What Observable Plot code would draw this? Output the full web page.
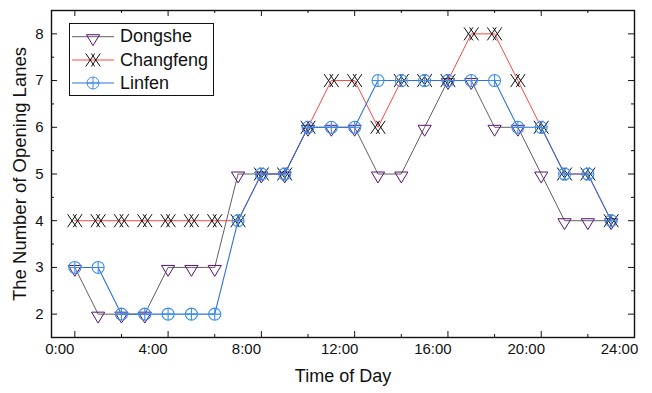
<!DOCTYPE html>
<html><head><meta charset="utf-8">
<script src="https://cdn.jsdelivr.net/npm/d3@7"></script>
<script src="https://cdn.jsdelivr.net/npm/@observablehq/plot@0.6"></script>
<style>
body{margin:0;background:#fff;}
#chart svg{font-family:"Liberation Sans",Arial,sans-serif;}
</style>
</head><body><div id="chart"></div>
<script>
const hours = [0,1,2,3,4,5,6,7,8,9,10,11,12,13,14,15,16,17,18,19,20,21,22,23];
const dongshe = [3,2,2,2,3,3,3,5,5,5,6,6,6,5,5,6,7,7,6,6,5,4,4,4];
const changfeng = [4,4,4,4,4,4,4,4,5,5,6,7,7,6,7,7,7,8,8,7,6,5,5,4];
const linfen = [3,3,2,2,2,2,2,4,5,5,6,6,6,7,7,7,7,7,7,6,6,5,5,4];
const seriesNames = ["Dongshe","Changfeng","Linfen"];
const xTicks = [0,4,8,12,16,20,24];
const xTickLabels = ["0:00","4:00","8:00","12:00","16:00","20:00","24:00"];
const xMinor = [2,6,10,14,18,22];
const yTicks = [2,3,4,5,6,7,8];
const yMinor = [2.5,3.5,4.5,5.5,6.5,7.5];
const xTitle = "Time of Day";
const yTitle = "The Number of Opening Lanes";

const colors = {
  dLine: "#606060", dMark: "#5a1070",
  cLine: "#ff4545", cMark: "#111111",
  lLine: "#2f72d8", lMark: "#3a8ef0"
};

// custom symbols
const triDown = {draw(ctx, size){const r=Math.sqrt(size/Math.PI);
  ctx.moveTo(-r,-0.3*r);ctx.lineTo(r,-0.3*r);ctx.lineTo(0,1.35*r);ctx.closePath();}};
const doubleX = {draw(ctx, size){const r=Math.sqrt(size/Math.PI);
  const o=0.45*r, hw=0.72*r, hh=1.05*r;
  for (const c of [-o,o]){ctx.moveTo(c-hw,-hh);ctx.lineTo(c+hw,hh);ctx.moveTo(c-hw,hh);ctx.lineTo(c+hw,-hh);}}};
const circlePlus = {draw(ctx, size){const r=Math.sqrt(size/Math.PI);
  ctx.moveTo(r,0);ctx.arc(0,0,r,0,2*Math.PI);ctx.moveTo(-r,0);ctx.lineTo(r,0);ctx.moveTo(0,-r);ctx.lineTo(0,r);}};

const rows = (vals) => hours.map((h,i)=>({h, v: vals[i]}));
const D = rows(dongshe), C = rows(changfeng), L = rows(linfen);

const plot = Plot.plot({
  width: 652, height: 393,
  marginLeft: 51, marginRight: 18, marginTop: 10, marginBottom: 56,
  x: {domain: [-1, 24], axis: null},
  y: {domain: [1.5, 8.5], axis: null},
  style: {fontFamily: '"Liberation Sans", Arial, sans-serif', background: "white", color: "#111"},
  marks: [
    // series
    Plot.line(D, {x: "h", y: "v", stroke: colors.dLine, strokeWidth: 1}),
    Plot.dot(D, {x: "h", y: "v", symbol: triDown, r: 6.6, stroke: colors.dMark, fill: "none", strokeWidth: 1}),
    Plot.line(C, {x: "h", y: "v", stroke: colors.cLine, strokeWidth: 1}),
    Plot.dot(C, {x: "h", y: "v", symbol: doubleX, r: 6.2, stroke: colors.cMark, fill: "none", strokeWidth: 1}),
    Plot.line(L, {x: "h", y: "v", stroke: colors.lLine, strokeWidth: 1.1}),
    Plot.dot(L, {x: "h", y: "v", symbol: circlePlus, r: 6, stroke: colors.lMark, fill: "none", strokeWidth: 1.1}),
    // ticks (inward, all four sides)
    Plot.tickX(xTicks, {x: d=>d, insetTop: 321, stroke: "#111"}),
    Plot.tickX(xTicks, {x: d=>d, insetBottom: 321, stroke: "#111"}),
    Plot.tickX(xMinor, {x: d=>d, insetTop: 324, stroke: "#111"}),
    Plot.tickX(xMinor, {x: d=>d, insetBottom: 324, stroke: "#111"}),
    Plot.tickY(yTicks, {y: d=>d, insetRight: 577, stroke: "#111"}),
    Plot.tickY(yTicks, {y: d=>d, insetLeft: 577, stroke: "#111"}),
    Plot.tickY(yMinor, {y: d=>d, insetRight: 580, stroke: "#111"}),
    Plot.tickY(yMinor, {y: d=>d, insetLeft: 580, stroke: "#111"}),
    Plot.frame({stroke: "#111", strokeWidth: 1.4}),
    // tick labels
    Plot.text(xTicks, {x: d=>d, text: (d,i)=>xTickLabels[i], frameAnchor: "bottom", dy: 16, dx: -15, fontSize: 15, fill: "#111"}),
    Plot.text(yTicks, {y: d=>d, text: d=>String(d), frameAnchor: "left", textAnchor: "end", dx: -8, fontSize: 15, fill: "#111"}),
    // titles
    Plot.text([xTitle], {text: d=>d, frameAnchor: "bottom", dy: 44, fontSize: 18, fill: "#111"}),
    Plot.text([yTitle], {text: d=>d, frameAnchor: "left", textAnchor: "middle", rotate: -90, dx: -31, fontSize: 18.5, fill: "#111"})
  ]
});
document.getElementById("chart").appendChild(plot);

// legend
const svg = d3.select(plot);
const lg = svg.append("g").attr("text-anchor", "start");
lg.append("rect").attr("x", 69.5).attr("y", 23.5).attr("width", 144).attr("height", 72)
  .attr("fill", "white").attr("stroke", "#111").attr("stroke-width", 1);
const legendItems = [
  {name: seriesNames[0], line: colors.dLine, mark: colors.dMark, sym: triDown, r: 6.6},
  {name: seriesNames[1], line: colors.cLine, mark: colors.cMark, sym: doubleX, r: 6.2},
  {name: seriesNames[2], line: colors.lLine, mark: colors.lMark, sym: circlePlus, r: 6}
];
const rowY = [36.7, 60, 83];
legendItems.forEach((it, i) => {
  const y = rowY[i];
  lg.append("line").attr("x1", 72).attr("x2", 114).attr("y1", y).attr("y2", y)
    .attr("stroke", it.line).attr("stroke-width", 1);
  const p = d3.path(); it.sym.draw(p, it.r*it.r*Math.PI);
  lg.append("path").attr("d", p.toString()).attr("transform", `translate(93,${y})`)
    .attr("fill", "none").attr("stroke", it.mark).attr("stroke-width", 1);
  lg.append("text").attr("x", 120).attr("y", y + 5.5).attr("font-size", 18)
    .attr("text-anchor", "start").attr("fill", "#111").text(it.name);
});
</script>
</body></html>
